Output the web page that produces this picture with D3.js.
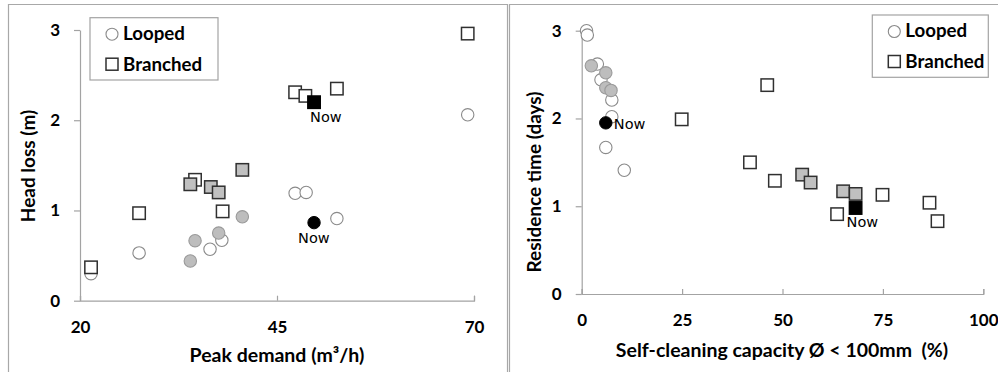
<!DOCTYPE html>
<html>
<head>
<meta charset="utf-8">
<script src="https://cdn.jsdelivr.net/npm/d3@7"></script>
<style>
  html, body { margin: 0; padding: 0; background: #fff; }
  svg { display: block; }
  .tick text, .axis-title, .legend-text { font-family: Lato, "Open Sans", sans-serif; font-weight: 700; fill: #000; }
  .axis-title { white-space: pre; }
  .now { font-family: "DejaVu Sans", sans-serif; font-size: 14.5px; fill: #000; }
</style>
</head>
<body>
<svg id="chart" width="998" height="372"></svg>
<script>
// ---- Panel 1: peak demand vs head loss ----
const demandLooped      = [21.4, 27.5, 36.5, 38.0, 47.3, 48.7, 52.6, 69.2];
const headLossLooped    = [0.30, 0.53, 0.57, 0.67, 1.19, 1.20, 0.91, 2.06];
const demandLoopedGrey  = [34.0, 34.6, 37.6, 40.6];
const headLossLoopedGrey= [0.44, 0.665, 0.75, 0.93];
const demandLoopedNow   = [49.7];
const headLossLoopedNow = [0.865];

const demandBranched      = [21.4, 27.5, 34.6, 38.1, 47.3, 48.6, 52.6, 69.2];
const headLossBranched    = [0.37, 0.97, 1.34, 0.99, 2.31, 2.27, 2.35, 2.96];
const demandBranchedGrey  = [34.0, 36.6, 37.6, 40.6];
const headLossBranchedGrey= [1.29, 1.26, 1.20, 1.45];
const demandBranchedNow   = [49.7];
const headLossBranchedNow = [2.20];

const demandTicks   = [20, 45, 70];
const headLossTicks = [0, 1, 2, 3];

// ---- Panel 2: self-cleaning capacity vs residence time ----
const cleaningLooped      = [1.2, 1.4, 3.9, 4.8, 7.5, 7.5, 6.0, 10.6];
const residenceLooped     = [3.00, 2.95, 2.62, 2.44, 2.21, 2.02, 1.67, 1.41];
const cleaningLoopedGrey  = [2.4, 6.0, 6.0, 7.3];
const residenceLoopedGrey = [2.60, 2.52, 2.35, 2.32];
const cleaningLoopedNow   = [6.0];
const residenceLoopedNow  = [1.95];

const cleaningBranched      = [24.9, 46.2, 41.9, 48.1, 63.6, 74.9, 86.6, 88.6];
const residenceBranched     = [1.99, 2.38, 1.50, 1.29, 0.91, 1.13, 1.04, 0.83];
const cleaningBranchedGrey  = [54.9, 57.0, 65.1, 68.2];
const residenceBranchedGrey = [1.36, 1.27, 1.17, 1.14];
const cleaningBranchedNow   = [68.2];
const residenceBranchedNow  = [0.98];

const cleaningTicks  = [0, 25, 50, 75, 100];
const residenceTicks = [0, 1, 2, 3];

const legendLabels = ["Looped", "Branched"];
const nowLabel = "Now";

const axisColor = "#a3a3a3";
const styles = {
  loopedOpen:   { shape: "circle", fill: "#fff",    stroke: "#8a8a8a", sw: 1.1 },
  loopedGrey:   { shape: "circle", fill: "#bdbdbd", stroke: "#9a9a9a", sw: 1.1 },
  loopedNow:    { shape: "circle", fill: "#000",    stroke: "#000",    sw: 1 },
  branchedOpen: { shape: "square", fill: "#fff",    stroke: "#303030", sw: 1.5 },
  branchedGrey: { shape: "square", fill: "#c0c0c0", stroke: "#303030", sw: 1.5 },
  branchedNow:  { shape: "square", fill: "#000",    stroke: "#000",    sw: 1.5 }
};

const svg = d3.select("#chart");

// panel frames
svg.append("path")
  .attr("d", "M8.5,400V4.5H507.5V400 M509.5,400V4.5H1000")
  .attr("fill", "none").attr("stroke", "#a8a8a8").attr("stroke-width", 1.2);

const zip = (xs, ys) => xs.map((x, i) => [x, ys[i]]);

function drawMarker(g, x, y, st, size) {
  const r = size / 2;
  if (st.shape === "circle") {
    g.append("circle").attr("cx", x).attr("cy", y).attr("r", r)
      .attr("fill", st.fill).attr("stroke", st.stroke).attr("stroke-width", st.sw);
  } else {
    g.append("rect").attr("x", x - r).attr("y", y - r).attr("width", size).attr("height", size)
      .attr("fill", st.fill).attr("stroke", st.stroke).attr("stroke-width", st.sw);
  }
}

function panel(cfg) {
  const g = svg.append("g");
  const x = d3.scaleLinear().domain(cfg.xDomain).range(cfg.xRange);
  const y = d3.scaleLinear().domain(cfg.yDomain).range(cfg.yRange);

  const yAxis = g.append("g").attr("transform", `translate(${cfg.xRange[0]},0)`)
    .call(d3.axisLeft(y).tickValues(cfg.yTicks).tickFormat(d3.format("d"))
      .tickSize(6).tickSizeOuter(0).tickPadding(14));
  const xAxis = g.append("g").attr("transform", `translate(0,${cfg.yRange[0]})`)
    .call(d3.axisBottom(x).tickValues(cfg.xTicks).tickFormat(d3.format("d"))
      .tickSize(-5).tickSizeOuter(-5).tickPadding(20));
  [xAxis, yAxis].forEach(a => {
    a.selectAll("path.domain, line").attr("stroke", axisColor).attr("stroke-width", 1.2);
    a.selectAll("text").style("font-size", "17px");
  });
  xAxis.selectAll(".tick text").attr("dy", "0.72em");

  // series
  cfg.series.forEach(s => {
    const sg = g.append("g");
    zip(s.xs, s.ys).forEach(([vx, vy]) => drawMarker(sg, x(vx), y(vy), styles[s.style], 12.4));
  });

  // "Now" annotations
  cfg.nowLabels.forEach(n => {
    g.append("text").attr("class", "now")
      .attr("x", x(n.xs[0]) + n.dx).attr("y", y(n.ys[0]) + n.dy)
      .attr("text-anchor", n.anchor).text(nowLabel);
  });

  // axis titles
  g.append("text").attr("class", "axis-title")
    .attr("x", cfg.xTitlePos[0]).attr("y", cfg.xTitlePos[1])
    .attr("text-anchor", "middle").style("font-size", "19.5px").text(cfg.xTitle);
  g.append("text").attr("class", "axis-title")
    .attr("transform", `translate(${cfg.yTitlePos[0]},${cfg.yTitlePos[1]}) rotate(-90)`)
    .attr("text-anchor", "middle").style("font-size", "19px").text(cfg.yTitle);

  // legend
  const L = cfg.legend;
  const lg = g.append("g");
  lg.append("rect").attr("x", L.x).attr("y", L.y).attr("width", L.w).attr("height", L.h)
    .attr("fill", "#fff").attr("stroke", "#a3a3a3").attr("stroke-width", 1.2);
  drawMarker(lg, L.x + 22, L.y + 16.5, styles.loopedOpen, 12);
  drawMarker(lg, L.x + 22, L.y + 46.5, styles.branchedOpen, 12);
  legendLabels.forEach((t, i) => {
    lg.append("text").attr("class", "legend-text")
      .attr("x", L.x + 33).attr("y", L.y + 22 + i * 31)
      .style("font-size", "18.7px").text(t);
  });
}

panel({
  xDomain: [20, 70], xRange: [80, 474],
  yDomain: [0, 3],   yRange: [300.7, 30],
  xTicks: demandTicks, yTicks: headLossTicks,
  series: [
    { xs: demandLooped, ys: headLossLooped, style: "loopedOpen" },
    { xs: demandLoopedGrey, ys: headLossLoopedGrey, style: "loopedGrey" },
    { xs: demandLoopedNow, ys: headLossLoopedNow, style: "loopedNow" },
    { xs: demandBranched, ys: headLossBranched, style: "branchedOpen" },
    { xs: demandBranchedGrey, ys: headLossBranchedGrey, style: "branchedGrey" },
    { xs: demandBranchedNow, ys: headLossBranchedNow, style: "branchedNow" }
  ],
  nowLabels: [
    { xs: demandLoopedNow, ys: headLossLoopedNow, dx: -16, dy: 20, anchor: "start" },
    { xs: demandBranchedNow, ys: headLossBranchedNow, dx: -4, dy: 19.5, anchor: "start" }
  ],
  xTitle: "Peak demand (m³/h)", xTitlePos: [277, 362],
  yTitle: "Head loss (m)", yTitlePos: [35, 166],
  legend: { x: 90, y: 17.7, w: 128, h: 62.3 }
});

panel({
  xDomain: [0, 100], xRange: [581.7, 983.3],
  yDomain: [0, 3],   yRange: [294, 30.7],
  xTicks: cleaningTicks, yTicks: residenceTicks,
  series: [
    { xs: cleaningLooped, ys: residenceLooped, style: "loopedOpen" },
    { xs: cleaningLoopedGrey, ys: residenceLoopedGrey, style: "loopedGrey" },
    { xs: cleaningLoopedNow, ys: residenceLoopedNow, style: "loopedNow" },
    { xs: cleaningBranched, ys: residenceBranched, style: "branchedOpen" },
    { xs: cleaningBranchedGrey, ys: residenceBranchedGrey, style: "branchedGrey" },
    { xs: cleaningBranchedNow, ys: residenceBranchedNow, style: "branchedNow" }
  ],
  nowLabels: [
    { xs: cleaningLoopedNow, ys: residenceLoopedNow, dx: 8, dy: 6.6, anchor: "start" },
    { xs: cleaningBranchedNow, ys: residenceBranchedNow, dx: -9, dy: 19, anchor: "start" }
  ],
  xTitle: "Self-cleaning capacity Ø < 100mm  (%)", xTitlePos: [782, 357],
  yTitle: "Residence time (days)", yTitlePos: [541, 182],
  legend: { x: 872.3, y: 15, w: 116, h: 62.3 }
});
</script>
</body>
</html>
